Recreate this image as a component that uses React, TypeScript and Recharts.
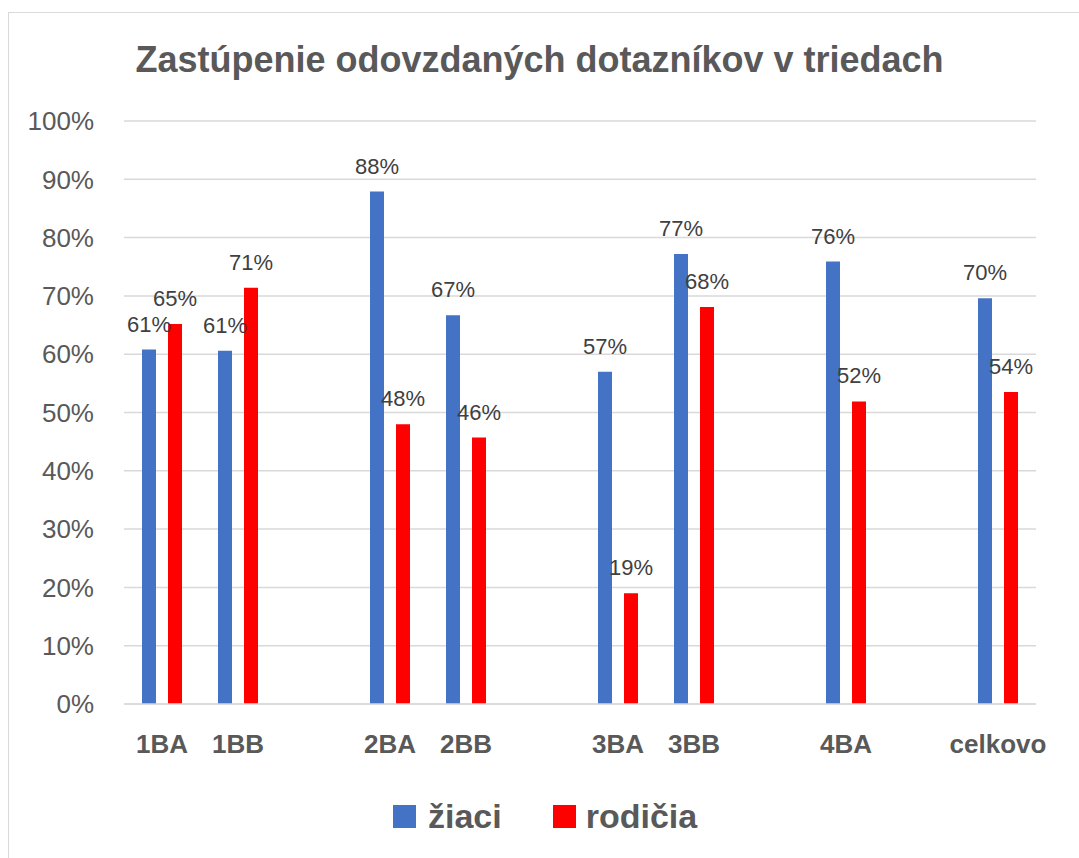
import React from 'react';
import { BarChart, Bar, XAxis, YAxis, CartesianGrid, LabelList } from 'recharts';

// empty names are the spacer slots between the class groups
const categories = ['1BA', '1BB', '', '2BA', '2BB', '', '3BA', '3BB', '', '4BA', '', 'celkovo'];
const ziaci = [60.8, 60.6, null, 87.9, 66.7, null, 57.0, 77.2, null, 75.9, null, 69.6];
const rodicia = [65.2, 71.4, null, 48.0, 45.7, null, 19.0, 68.1, null, 51.9, null, 53.5];
const yTicks = [0, 10, 20, 30, 40, 50, 60, 70, 80, 90, 100];

const data = categories.map((name, i) => ({ name, ziaci: ziaci[i], rodicia: rodicia[i] }));

const FONT = '"Liberation Sans", Arial, sans-serif';
const TEXT = '#595959';
const BLUE = '#4472C4';
const RED = '#FF0000';

const pct = (v: any) => (v == null ? '' : `${Math.round(Number(v))}%`);

export default function App() {
  return (
    <div style={{ position: 'absolute', left: 0, top: 0, width: 1079, height: 858, overflow: 'hidden', background: '#fff', fontFamily: FONT }}>
      {/* chart frame, cut off at the right and bottom like the reference */}
      <div style={{ position: 'absolute', left: 8, top: 12, width: 1200, height: 1000, borderTop: '1.5px solid #d9d9d9', borderLeft: '1.5px solid #d9d9d9' }} />
      <div
        style={{
          position: 'absolute',
          left: 0,
          width: 1079,
          top: 38,
          textAlign: 'center',
          fontSize: 36,
          fontWeight: 'bold',
          color: TEXT,
          lineHeight: '44px',
        }}
      >
        Zastúpenie odovzdaných dotazníkov v triedach
      </div>
      <div style={{ position: 'absolute', left: 0, top: 0 }}>
        <BarChart
          width={1079}
          height={858}
          data={data}
          margin={{ top: 121, right: 43, left: 14, bottom: 94 }}
          barSize={14}
          barGap={12}
        >
          <CartesianGrid vertical={false} stroke="#d9d9d9" strokeWidth={1.5} />
          <XAxis
            dataKey="name"
            height={60}
            axisLine={{ stroke: '#d9d9d9', strokeWidth: 1.5 }}
            tickLine={false}
            tickSize={0}
            tickMargin={31}
            interval={0}
            tick={{ fill: TEXT, fontSize: 26, fontWeight: 'bold', fontFamily: FONT }}
          />
          <YAxis
            width={110}
            domain={[0, 100]}
            ticks={yTicks}
            axisLine={false}
            tickLine={false}
            tickSize={0}
            tickMargin={30}
            tickFormatter={(v) => `${v}%`}
            tick={{ fill: TEXT, fontSize: 26, fontFamily: FONT }}
          />
          <Bar dataKey="ziaci" fill={BLUE} isAnimationActive={false}>
            <LabelList dataKey="ziaci" position="top" offset={18} formatter={pct} fill="#404040" fontSize={22} fontFamily={FONT} />
          </Bar>
          <Bar dataKey="rodicia" fill={RED} isAnimationActive={false}>
            <LabelList dataKey="rodicia" position="top" offset={18} formatter={pct} fill="#404040" fontSize={22} fontFamily={FONT} />
          </Bar>
        </BarChart>
      </div>
      {/* legend */}
      <div style={{ position: 'absolute', left: 393, top: 796, height: 40, display: 'flex', alignItems: 'center', fontSize: 34, fontWeight: 'bold', color: TEXT }}>
        <span style={{ width: 23, height: 23, background: BLUE, display: 'inline-block', marginRight: 12 }} />
        <span>žiaci</span>
        <span style={{ width: 23, height: 23, background: RED, display: 'inline-block', marginLeft: 51, marginRight: 10 }} />
        <span>rodičia</span>
      </div>
    </div>
  );
}
